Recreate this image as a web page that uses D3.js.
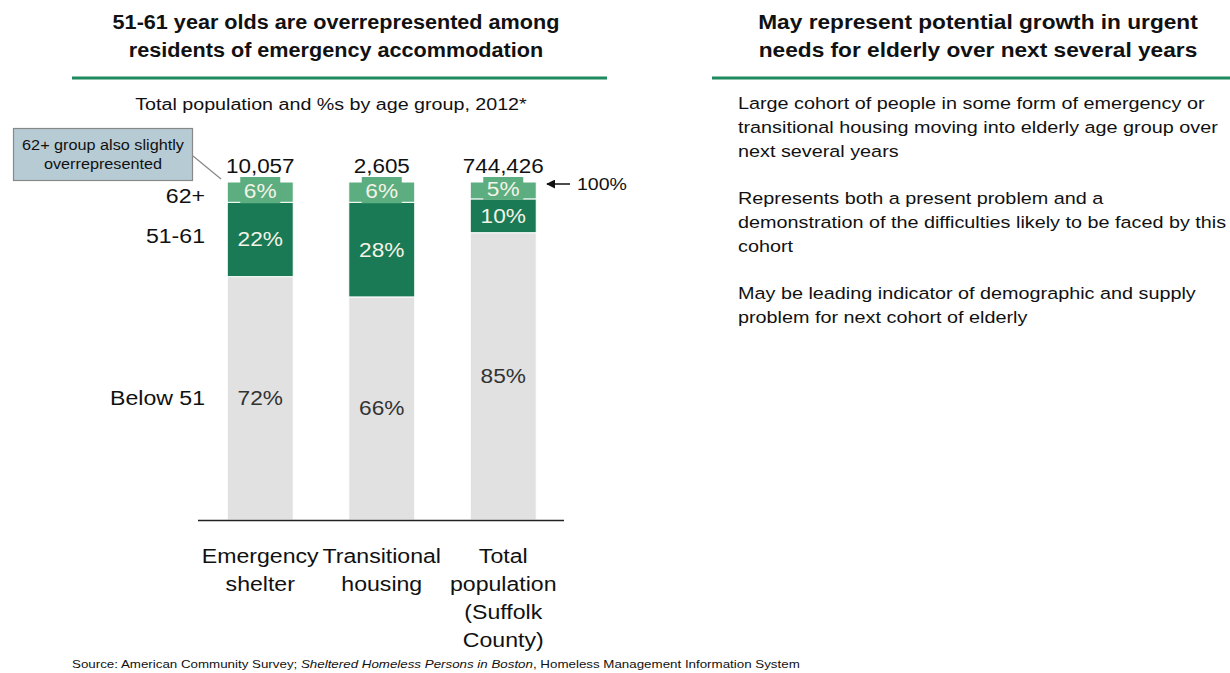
<!DOCTYPE html>
<html><head><meta charset="utf-8">
<script src="https://cdn.jsdelivr.net/npm/d3@7"></script>
<style>body{margin:0;background:#fff}svg{display:block}text{font-family:"Liberation Sans",Arial,sans-serif}</style>
</head><body><svg id="c" width="1230" height="673"></svg>
<script>
const categories = [["Emergency","shelter"],["Transitional","housing"],["Total","population","(Suffolk","County)"]];
const totals = ["10,057","2,605","744,426"];
const below51 = [72,66,85];
const age51to61 = [22,28,10];
const age62plus = [6,6,5];
const groupLabels = ["Below 51","51-61","62+"];
const leftTitle = ["51-61 year olds are overrepresented among","residents of emergency accommodation"];
const rightTitle = ["May represent potential growth in urgent","needs for elderly over next several years"];
const subtitle = "Total population and %s by age group, 2012*";
const bullets = [["Large cohort of people in some form of emergency or","transitional housing moving into elderly age group over","next several years"],["Represents both a present problem and a","demonstration of the difficulties likely to be faced by this","cohort"],["May be leading indicator of demographic and supply","problem for next cohort of elderly"]];
const callout = ["62+ group also slightly","overrepresented"];

const svg = d3.select("#c");
const green = "#1a7a55", light = "#5cad80", grey = "#e1e1e1", rule = "#1e8a5e";

function T(parent, x, y, str, o){
  o = o || {};
  const t = parent.append("text")
    .attr("transform", `translate(${x},${y}) scale(${o.sx||1},1)`)
    .attr("text-anchor", o.anchor||"start")
    .attr("font-size", o.size||16)
    .attr("fill", o.fill||"#111");
  if(o.weight) t.attr("font-weight", o.weight);
  if(str!==null) t.text(str);
  return t;
}

// titles
leftTitle.forEach((t,i)=>T(svg,336,29+i*28,t,{anchor:"middle",size:21,weight:"bold",sx:1.03}));
rightTitle.forEach((t,i)=>T(svg,978,29+i*28,t,{anchor:"middle",size:21,weight:"bold",sx:1.08}));
svg.append("line").attr("x1",72).attr("x2",607).attr("y1",78).attr("y2",78).attr("stroke",rule).attr("stroke-width",3);
svg.append("line").attr("x1",712).attr("x2",1230).attr("y1",78).attr("y2",78).attr("stroke",rule).attr("stroke-width",3);
T(svg,331,110,subtitle,{anchor:"middle",size:16,sx:1.23});

// bullets
let by = 109;
bullets.forEach(b=>{ b.forEach(l=>{ T(svg,738,by,l,{size:16.5,sx:1.2}); by+=24;}); by+=23; });

// scales
const x = d3.scaleBand().domain(d3.range(categories.length)).range([199.5,564]).paddingInner(0.457).paddingOuter(0.2285);
const y = d3.scaleLinear().domain([0,100]).range([520,182]);

const stackData = categories.map((c,i)=>({i, below:below51[i], mid:age51to61[i], top:age62plus[i]}));
const stack = d3.stack().keys(["below","mid","top"])(stackData);
const fills = {below:grey, mid:green, top:light};

stack.forEach(layer=>{
  svg.append("g").selectAll("rect").data(layer).join("rect")
    .attr("x",d=>x(d.data.i)).attr("width",x.bandwidth())
    .attr("y",d=>y(d[1])).attr("height",d=>y(d[0])-y(d[1]))
    .attr("fill",fills[layer.key]).attr("stroke","#fff").attr("stroke-width",1);
});

// labels
const lab = {size:21, sx:1.08, anchor:"middle"};
stack.forEach(layer=>{
  layer.forEach(d=>{
    const cx = x(d.data.i)+x.bandwidth()/2;
    const cy = (y(d[0])+y(d[1]))/2;
    const v = d[1]-d[0];
    if(layer.key==="top"){
      svg.append("rect").attr("x",cx-20).attr("y",y(d[1])-5).attr("width",40).attr("height",y(d[0])-y(d[1])+6).attr("fill",light);
      T(svg,cx,cy+6,v+"%",Object.assign({},lab,{fill:"#f3f3e6"}));
    } else if(layer.key==="mid"){
      T(svg,cx,cy+7,v+"%",Object.assign({},lab,{fill:"#f3f3e6"}));
    } else {
      T(svg,cx,cy+7,v+"%",Object.assign({},lab,{fill:"#333"}));
    }
  });
});

// totals
totals.forEach((t,i)=>T(svg,x(i)+x.bandwidth()/2,y(100)-9,t,{anchor:"middle",size:21,sx:1.07}));

// group labels (aligned with first bar's segments)
const first = stack.map(l=>l[0]);
const off = [7,4,11];
first.forEach((d,k)=>T(svg,205,(y(d[0])+y(d[1]))/2+off[k],groupLabels[k],{anchor:"end",size:21,sx:1.1}));

// axis
svg.append("g").attr("transform","translate(0,520)").call(d3.axisBottom(x).tickSize(0).tickFormat(""))
  .call(g=>g.select(".domain").attr("d","M198,0.5H564").attr("stroke","#222").attr("stroke-width",1.5));
categories.forEach((c,i)=>c.forEach((l,j)=>T(svg,x(i)+x.bandwidth()/2,563+j*28,l,{anchor:"middle",size:21,sx:1.1})));

// 100% arrow
const ay = y(100)+2;
svg.append("defs").append("marker").attr("id","ah").attr("viewBox","0 0 10 10").attr("refX",9).attr("refY",5).attr("markerWidth",6).attr("markerHeight",6).attr("orient","auto").append("path").attr("d","M0,0L10,5L0,10z").attr("fill","#111");
svg.append("line").attr("x1",570).attr("x2",547).attr("y1",ay).attr("y2",ay).attr("stroke","#111").attr("stroke-width",1.5).attr("marker-end","url(#ah)");
T(svg,577,ay+6,"100%",{size:17,sx:1.15});

// callout
svg.append("line").attr("x1",193).attr("y1",156).attr("x2",221).attr("y2",179).attr("stroke","#888").attr("stroke-width",1.2);
svg.append("rect").attr("x",13.5).attr("y",128.5).attr("width",179).attr("height",52).attr("fill","#b7cbd5").attr("stroke","#888").attr("stroke-width",1.2);
callout.forEach((t,i)=>T(svg,103,150+i*19,t,{anchor:"middle",size:14.5,sx:1.12}));

// source
const src = T(svg,72,668,null,{size:10.5,sx:1.27});
src.append("tspan").text("Source: American Community Survey; ");
src.append("tspan").attr("font-style","italic").text("Sheltered Homeless Persons in Boston");
src.append("tspan").text(", Homeless Management Information System");
</script></body></html>
